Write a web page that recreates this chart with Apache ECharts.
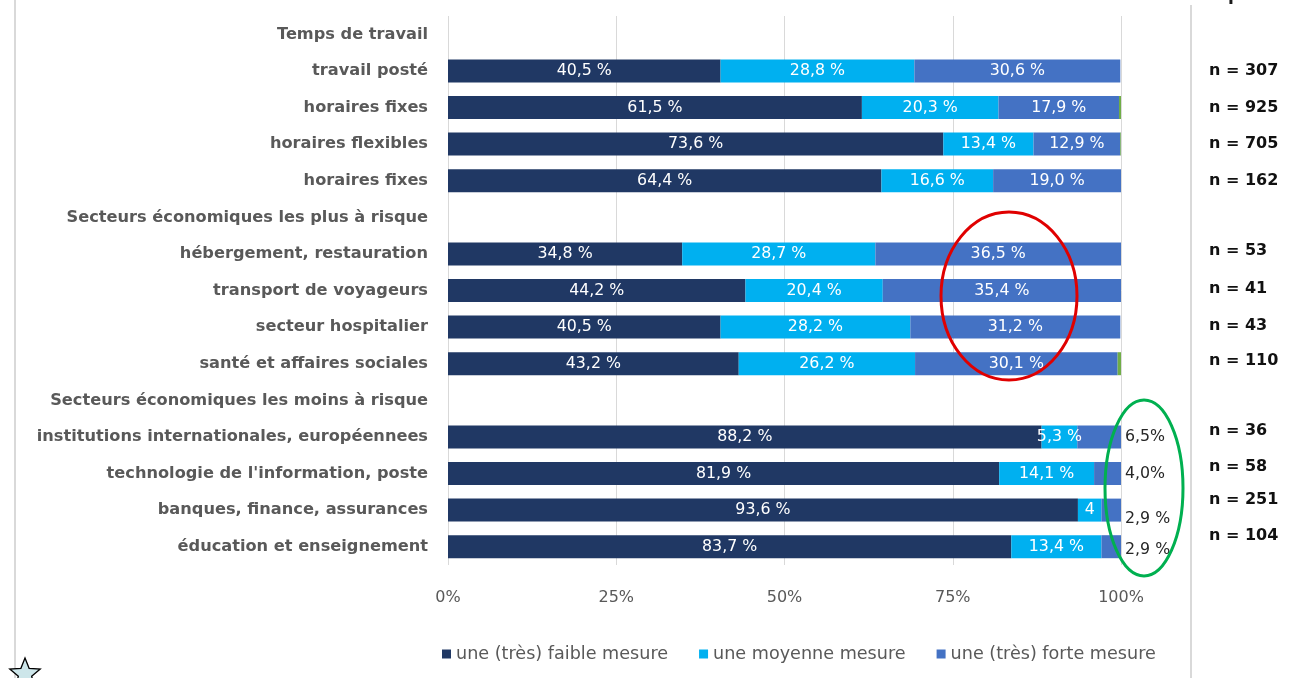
<!DOCTYPE html>
<html><head><meta charset="utf-8">
<script src="https://cdn.jsdelivr.net/npm/echarts@6/dist/echarts.min.js"></script>
<style>html,body{margin:0;padding:0;background:#fff}#c{width:1316px;height:678px}</style>
</head><body><div id="c"></div>
<script>
const categories = ['Temps de travail','travail posté','horaires fixes','horaires flexibles','horaires fixes',
  'Secteurs économiques les plus à risque','hébergement, restauration','transport de voyageurs','secteur hospitalier','santé et affaires sociales',
  'Secteurs économiques les moins à risque','institutions internationales, européennees',"technologie de l'information, poste",'banques, finance, assurances','éducation et enseignement'];
const nLabels = ['','n = 307','n = 925','n = 705','n = 162','','n = 53','n = 41','n = 43','n = 110','','n = 36','n = 58','n = 251','n = 104'];
const seriesNames = ['une (très) faible mesure','une moyenne mesure','une (très) forte mesure'];
const faible  = [null,40.5,61.5,73.6,64.4,null,34.8,44.2,40.5,43.2,null,88.2,81.9,93.6,83.7];
const moyenne = [null,28.8,20.3,13.4,16.6,null,28.7,20.4,28.2,26.2,null,5.3,14.1,3.5,13.4];
const forte   = [null,30.6,17.9,12.9,19.0,null,36.5,35.4,31.2,30.1,null,6.5,4.0,2.9,2.9];
const autre   = [null,0,0.3,0.1,0,null,0,0,0,0.5,null,0,0,0,0];
const moyenneLabelText = {13:'4'};
const forteOutsideText = {11:'6,5%',12:'4,0%',13:'2,9 %',14:'2,9 %'};

const colors = ['#203864','#00B0F0','#4472C4','#70AD47'];
const fmt = v => v.toFixed(1).replace('.',',') + ' %';
const FONT = 'DejaVu Sans';

const chart = echarts.init(document.getElementById('c'));
const base = (name, data, color, overrides) => ({
  name, type:'bar', stack:'t', data: data.slice(), barWidth:23,
  itemStyle:{color}, emphasis:{disabled:true},
  label:{show:true, position:'inside', color:'#fff', fontSize:15.8, fontFamily:FONT,
    formatter: p => (overrides && overrides[p.dataIndex]) || fmt(p.value)}
});
const forteData = forte.map((v,i)=>{
  if (forteOutsideText[i] === undefined) return v;
  const dy = {13:9,14:3}[i] || 0;
  return {value:v, label:{position:'right', distance:4, color:'#262626', fontSize:15.8, offset:[0,dy],
    formatter: forteOutsideText[i]}};
});
const sForte = base(seriesNames[2], forte, colors[2]);
sForte.data = forteData;
const sAutre = {name:'autre', type:'bar', stack:'t', data:autre, barWidth:23, itemStyle:{color:colors[3]}, label:{show:false}, emphasis:{disabled:true}};

const starPts = [];
for (let k=0;k<10;k++){ const r = k%2===0?16:7; const a = -Math.PI/2 + k*Math.PI/5; starPts.push([25+r*Math.cos(a), 674+r*Math.sin(a)]); }

chart.setOption({
  animation:false,
  grid:{left:448, right:195, top:16, bottom:113},
  xAxis:{type:'value', min:0, max:100, interval:25,
    axisLine:{show:false}, axisTick:{show:false},
    splitLine:{lineStyle:{color:'#d9d9d9', width:1}},
    axisLabel:{formatter:'{value}%', color:'#595959', fontSize:16, fontFamily:FONT, margin:25}},
  yAxis:[{type:'category', inverse:true, data:categories,
      axisLine:{show:false}, axisTick:{show:false},
      axisLabel:{color:'#595959', fontSize:16.2, fontWeight:'bold', fontFamily:FONT, margin:20}},
    {type:'category', inverse:true, position:'right', data:nLabels,
      axisLine:{show:false}, axisTick:{show:false},
      axisLabel:{color:'#111', fontSize:16, fontWeight:'bold', fontFamily:FONT, margin:88, align:'left',
        formatter:(v,i)=>{ const up = {6:3,7:2,8:1,9:3,11:6,12:7,13:10,14:11}[i]||0; return '{a' + up + '|' + v + '}'; },
        rich:(()=>{const r={}; for(let u=0;u<=11;u++) r['a'+u]={color:'#111',fontSize:16,fontWeight:'bold',fontFamily:FONT,padding:[0,0,2*u,0]}; return r;})()}}],
  legend:{data:seriesNames, top:640, left:437, icon:'rect', itemWidth:9, itemHeight:9, itemGap:31,
    textStyle:{color:'#595959', fontSize:17.6, fontFamily:FONT}},
  series:[base(seriesNames[0], faible, colors[0]), base(seriesNames[1], moyenne, colors[1], moyenneLabelText), sForte, sAutre],
  graphic:[
    {type:'line', shape:{x1:15,y1:0,x2:15,y2:678}, style:{stroke:'#d9d9d9', lineWidth:2}, silent:true},
    {type:'line', shape:{x1:1191,y1:5,x2:1191,y2:678}, style:{stroke:'#d9d9d9', lineWidth:2}, silent:true},
    {type:'text', left:1210, top:-13, style:{text:'n pondéré', fill:'#1a1a1a', font:'bold 17px "DejaVu Sans"'}, silent:true},
    {type:'ellipse', shape:{cx:1009, cy:296, rx:68, ry:84}, style:{fill:'none', stroke:'#e00000', lineWidth:3}, silent:true, z:10},
    {type:'ellipse', shape:{cx:1144, cy:488, rx:39, ry:88}, style:{fill:'none', stroke:'#00b050', lineWidth:3}, silent:true, z:10},
    {type:'polygon', shape:{points:starPts}, style:{fill:'#cde6ea', stroke:'#000', lineWidth:1.3}, silent:true}
  ]
});
</script></body></html>
